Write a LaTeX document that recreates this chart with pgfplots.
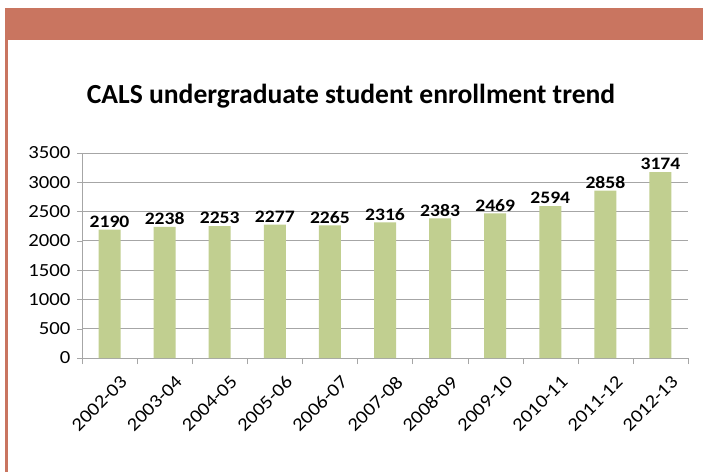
\documentclass[border=0pt]{standalone}
\usepackage{fontspec}
\setmainfont{Carlito}[FakeStretch=1.12]
\newfontfamily\titlefont{Carlito}
\usepackage{pgfplots}
\pgfplotsset{compat=1.18}
\definecolor{bandred}{RGB}{201,117,96}
\definecolor{barolive}{RGB}{193,207,144}
\definecolor{gridgray}{RGB}{166,166,166}

\begin{document}
\begin{tikzpicture}
\useasboundingbox (0pt,0pt) rectangle (703pt,472pt);
\fill[white] (0pt,0pt) rectangle (703pt,472pt);
% frame
\fill[bandred] (5pt,432pt) rectangle (703pt,464pt);
\fill[bandred] (5pt,0pt) rectangle (8pt,432pt);
\node[font=\titlefont\fontsize{27.6}{30}\selectfont\bfseries] at (351pt,376pt)
  {CALS undergraduate student enrollment trend};

\begin{axis}[
    at={(82pt,114pt)}, anchor=south west,
    width=606pt, height=205pt, scale only axis,
    xmin=-0.5, xmax=10.5,
    ymin=0, ymax=3500,
    ytick={0,500,...,3500},
    xtick={0,...,10},
    xticklabels={2002-03,2003-04,2004-05,2005-06,2006-07,2007-08,2008-09,2009-10,2010-11,2011-12,2012-13},
    minor xtick={-0.5,0.5,...,10.5},
    major x tick style={draw=none},
    minor x tick style={draw=gridgray},
    minor tick length=6pt,
    major tick length=5pt,
    tick align=outside,
    ytick style={draw=gridgray},
    axis x line*=bottom, axis y line*=left,
    axis line style={draw=gridgray, -},
    ymajorgrids, major grid style={draw=gridgray, line width=0.8pt},
    tick label style={font=\fontsize{18.5}{20}\selectfont},
    /pgf/number format/assume math mode=true,
    /pgf/number format/1000 sep={},
    x tick label style={xshift=10pt, yshift=-10pt, rotate=45, anchor=north east, inner sep=1pt},
    yticklabel style={xshift=-3pt},
    ybar, bar width=22pt,
    nodes near coords,
    every node near coord/.append style={font=\fontsize{17.5}{19}\selectfont\bfseries, inner sep=2pt,
        /pgf/number format/assume math mode=true, /pgf/number format/1000 sep={}},
]
\addplot[fill=barolive, draw=none] coordinates {
    (0,2190) (1,2238) (2,2253) (3,2277) (4,2265) (5,2316)
    (6,2383) (7,2469) (8,2594) (9,2858) (10,3174)
};
\end{axis}
\end{tikzpicture}
\end{document}
